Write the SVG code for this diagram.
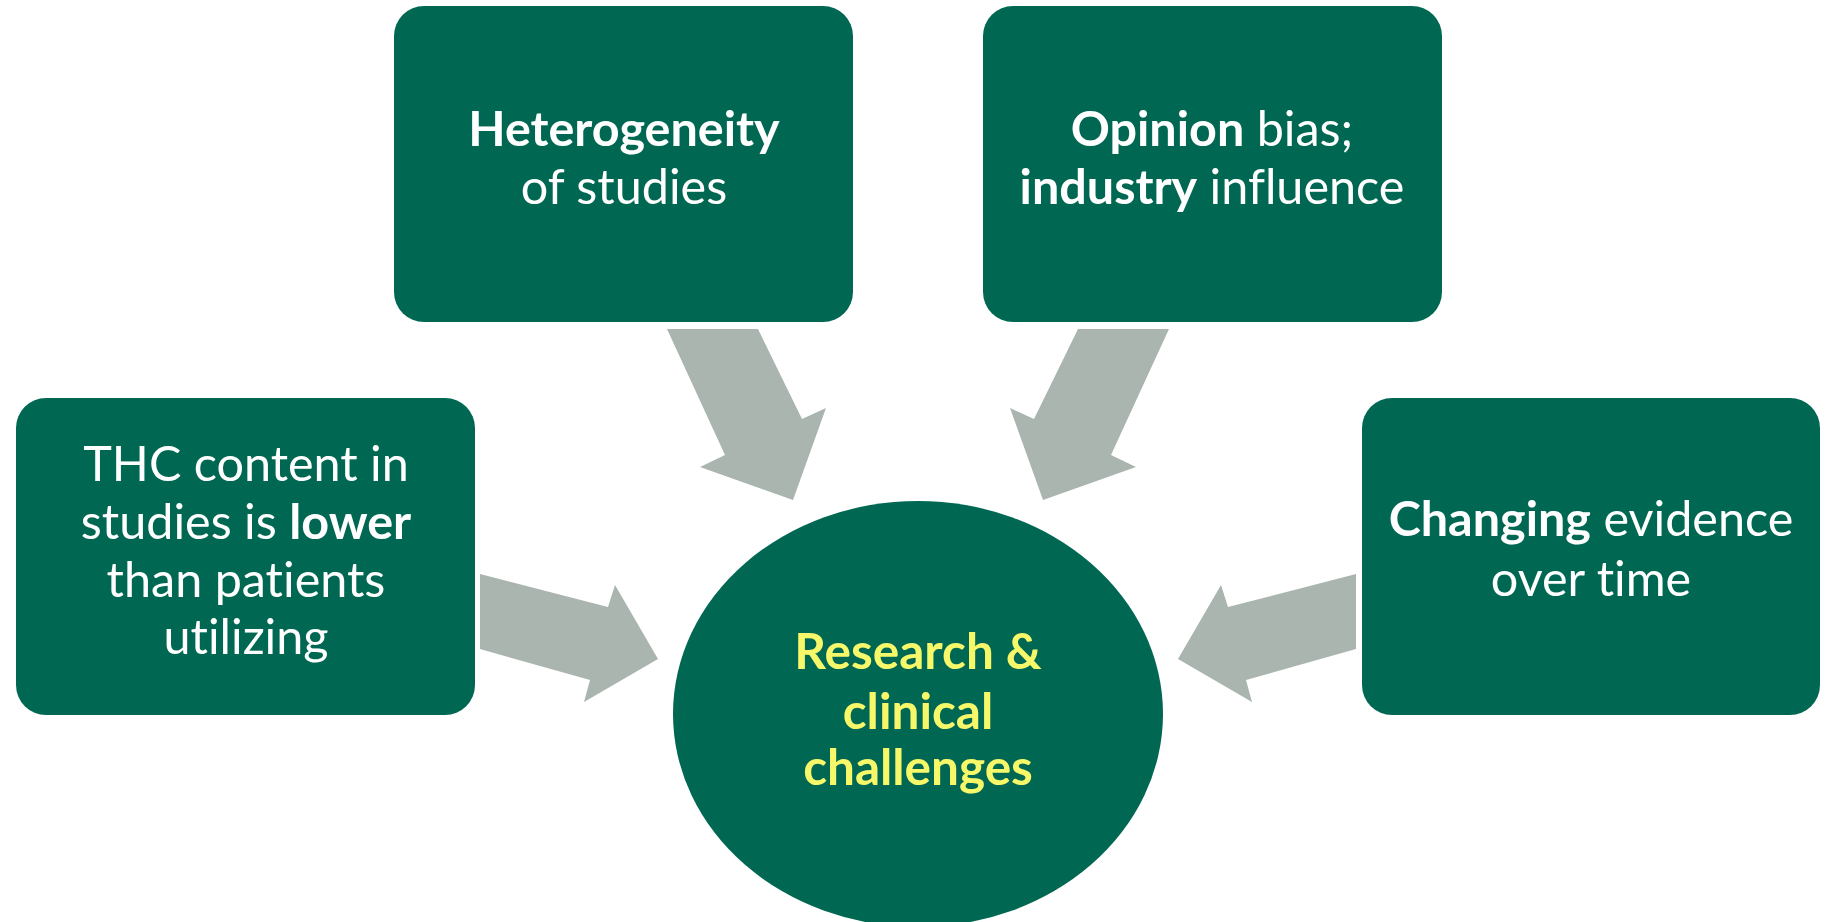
<svg xmlns="http://www.w3.org/2000/svg" width="1831" height="922" viewBox="0 0 1831 922">
  <style>
    .box { fill: #006852; }
    .arrow { fill: #AAB5AF; }
    text { font-variant-ligatures: none; }
    .lbl { font-family: Lato, "Open Sans", "Liberation Sans", sans-serif; font-size: 48.5px; fill: #FFFFFF; text-anchor: middle; }
    .b { font-weight: bold; }
    .hub { font-family: Lato, "Open Sans", "Liberation Sans", sans-serif; font-size: 49.5px; font-weight: bold; fill: #F7F76A; text-anchor: middle; }
  </style>
  <rect width="1831" height="922" fill="#FFFFFF"/>

  <!-- connectors: block arrows pointing into the hub -->
  <g id="connectors">
    <polygon class="arrow" points="667,329 758,329 802,419 826,408 793,500 700,467 725,455"/>
    <polygon class="arrow" points="1169,329 1078,329 1034,419 1010,408 1043,500 1136,467 1111,455"/>
    <polygon class="arrow" points="480,574 608,607 615,585 658,659 584,702 590,680 480,649"/>
    <polygon class="arrow" points="1356,574 1228,607 1221,585 1178,659 1252,702 1246,680 1356,649"/>
  </g>

  <g id="hub">
    <ellipse class="box" cx="918" cy="714" rx="245" ry="213"/>
    <text class="hub" x="918" y="669">Research &amp;</text>
    <text class="hub" x="918" y="729">clinical</text>
    <text class="hub" x="918" y="785">challenges</text>
  </g>

  <g id="node-heterogeneity">
    <rect class="box" x="394" y="6" width="459" height="316" rx="30"/>
    <text class="lbl" x="624" y="146"><tspan class="b">Heterogeneity</tspan></text>
    <text class="lbl" x="624" y="204">of studies</text>
  </g>

  <g id="node-bias">
    <rect class="box" x="983" y="6" width="459" height="316" rx="30"/>
    <text class="lbl" x="1212" y="146"><tspan class="b">Opinion</tspan> bias;</text>
    <text class="lbl" x="1212" y="204"><tspan class="b">industry</tspan> influence</text>
  </g>

  <g id="node-thc">
    <rect class="box" x="16" y="398" width="459" height="317" rx="30"/>
    <text class="lbl" x="246" y="481">THC content in</text>
    <text class="lbl" x="246" y="539">studies is <tspan class="b">lower</tspan></text>
    <text class="lbl" x="246" y="597">than patients</text>
    <text class="lbl" x="246" y="654">utilizing</text>
  </g>

  <g id="node-evidence">
    <rect class="box" x="1362" y="398" width="458" height="317" rx="30"/>
    <text class="lbl" x="1591" y="536"><tspan class="b">Changing</tspan> evidence</text>
    <text class="lbl" x="1591" y="596">over time</text>
  </g>
</svg>
